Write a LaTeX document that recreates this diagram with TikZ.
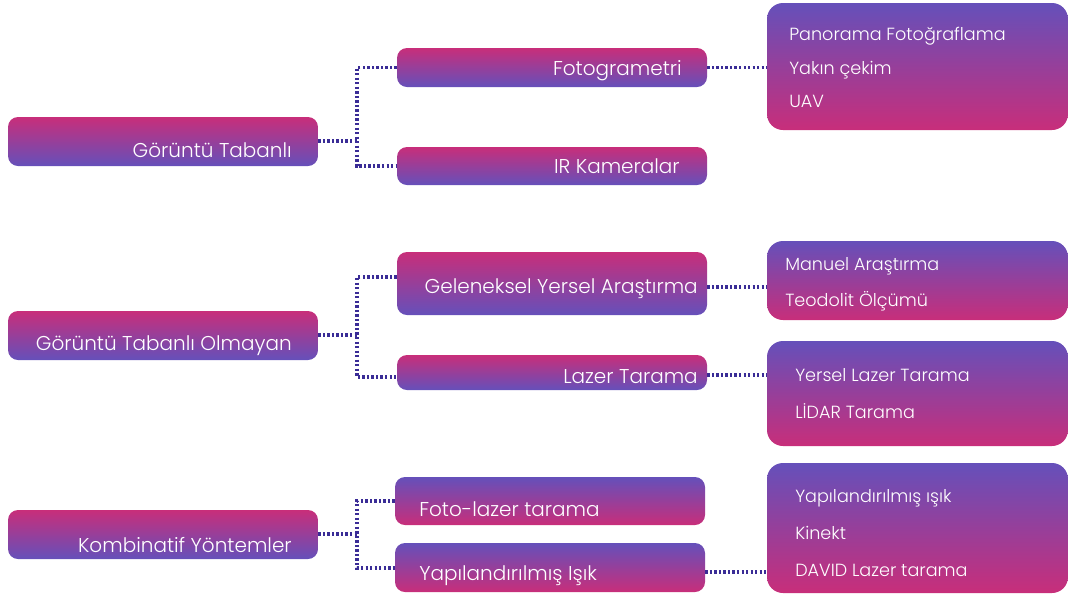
\documentclass[tikz,border=0pt]{standalone}
\usepackage{fontspec}
\setmainfont{Poppins Light}
\usetikzlibrary{fit}
\definecolor{pk}{RGB}{200,46,122}
\definecolor{pu}{RGB}{101,80,186}
\definecolor{ln}{RGB}{58,44,150}
\tikzset{
  pdown/.style={rounded corners=7.5pt, top color=pk, bottom color=pu, draw=none, inner sep=0pt},
  pup/.style={rounded corners=7.5pt, top color=pu, bottom color=pk, draw=none, inner sep=0pt},
  bigup/.style={rounded corners=12pt, top color=pu, bottom color=pk, draw=none, inner sep=0pt},
  lbl/.style={text=white, font=\fontsize{15}{17}\selectfont, inner sep=0pt},
  sub/.style={text=white, font=\fontsize{13.2}{15}\selectfont, inner sep=0pt, anchor=base west},
  conn/.style={draw=ln, line width=2.4pt, dash pattern=on 1.7pt off 1.7pt}
}
\begin{document}
\begin{tikzpicture}[x=0.75pt,y=-0.75pt]
\useasboundingbox (0,0) rectangle (1068,594);
% left boxes
\node[pdown, fit={(8,117) (318,166)}] (A) {};
\node[pdown, fit={(8,311) (318,360)}] (B) {};
\node[pdown, fit={(8,510) (318,559)}] (C) {};
\node[lbl, anchor=base east] (At) at (292,157) {Görüntü Tabanlı};
\node[lbl, anchor=base east] (Bt) at (292,350) {Görüntü Tabanlı Olmayan};
\node[lbl, anchor=base east] (Ct) at (292,552) {Kombinatif Yöntemler};
% middle boxes
\node[pdown, fit={(397,48) (707,87)}] (A1) {};
\node[pdown, fit={(397,147) (707,185)}] (A2) {};
\node[pdown, fit={(397,252) (707,315)}] (B1) {};
\node[pdown, fit={(397,355) (707,390)}] (B2) {};
\node[pup, fit={(395,477) (705,525)}] (C1) {};
\node[pup, fit={(395,543) (705,592)}] (C2) {};
\node[lbl, anchor=base east] (A1t) at (682,75) {Fotogrametri};
\node[lbl, anchor=base east] (A2t) at (680,173) {IR Kameralar};
\node[lbl, anchor=base east] (B1t) at (698,293) {Geleneksel Yersel Araştırma};
\node[lbl, anchor=base east] (B2t) at (698,383) {Lazer Tarama};
\node[lbl, anchor=base west] (C1t) at (419,516) {Foto-lazer tarama};
\node[lbl, anchor=base west] (C2t) at (419,580) {Yapılandırılmış Işık};
% right boxes
\node[bigup, fit={(767,3) (1068,130)}] (R1) {};
\node[bigup, fit={(767,241) (1068,320)}] (R2) {};
\node[bigup, fit={(767,341) (1068,446)}] (R3) {};
\node[bigup, fit={(767,463) (1068,593)}] (R4) {};
\node[sub] (r11) at (789,40) {Panorama Fotoğraflama};
\node[sub] (r12) at (789,74) {Yakın çekim};
\node[sub] (r13) at (789,107) {UAV};
\node[sub] (r21) at (785,270) {Manuel Araştırma};
\node[sub] (r22) at (785,306) {Teodolit Ölçümü};
\node[sub] (r31) at (795,381) {Yersel Lazer Tarama};
\node[sub] (r32) at (795,418) {LİDAR Tarama};
\node[sub] (r41) at (795,502) {Yapılandırılmış ışık};
\node[sub] (r42) at (795,539) {Kinekt};
\node[sub] (r43) at (795,576) {DAVID Lazer tarama};
% connectors
\coordinate (ja) at (357,141);
\coordinate (jb) at (357,335);
\coordinate (jc) at (357,534);
\draw[conn] (A.east |- ja) -- (ja);
\draw[conn] (A1.west) -| (ja) |- (A2.west);
\draw[conn] (B.east |- jb) -- (jb);
\draw[conn] (B1.west |- 0,277) -| (jb) |- (B2.west |- 0,377);
\draw[conn] (C.east |- jc) -- (jc);
\draw[conn] (C1.west |- 0,501) -| (jc) |- (C2.west |- 0,568);
\draw[conn] (A1.east) -- (R1.west |- A1.east);
\draw[conn] (B1.east |- 0,287) -- (R2.west |- 0,287);
\draw[conn] (B2.east |- 0,375) -- (R3.west |- 0,375);
\draw[conn] (C2.east |- 0,572) -- (R4.west |- 0,572);
\end{tikzpicture}
\end{document}
